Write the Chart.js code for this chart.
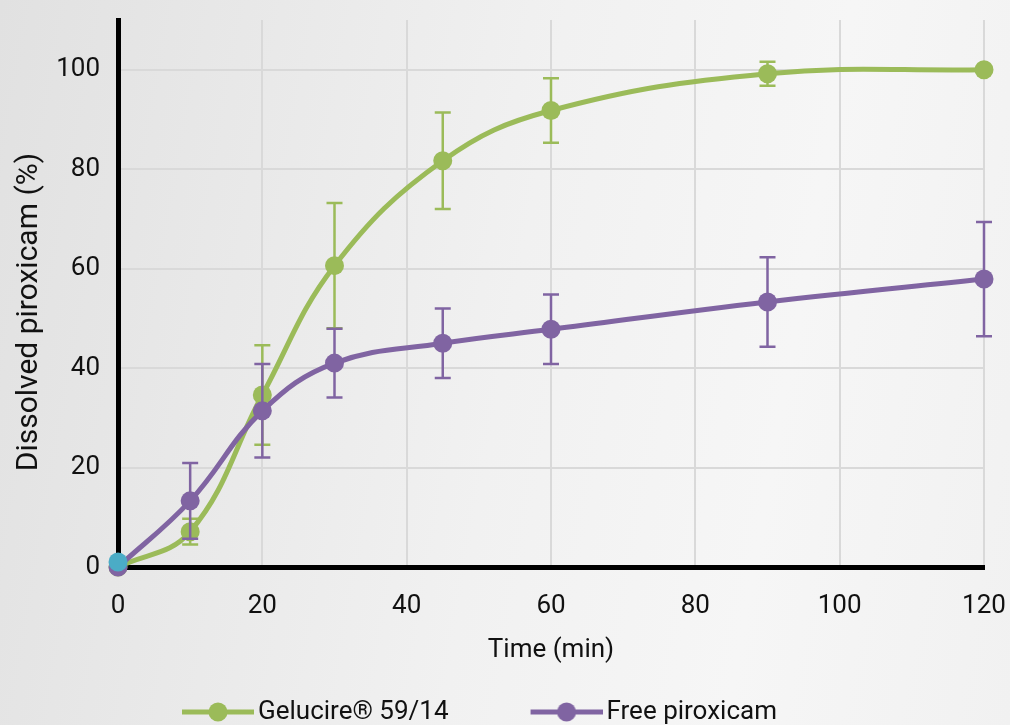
<!DOCTYPE html>
<html>
<head>
<meta charset="utf-8">
<script src="https://cdn.jsdelivr.net/npm/chart.js@4.4.0/dist/chart.umd.min.js"></script>
<style>
  html, body { margin: 0; padding: 0; }
  body {
    width: 1010px; height: 725px; overflow: hidden;
    background: linear-gradient(100deg, #e1e1e1 0%, #e9e9e9 25%, #f1f1f1 50%, #f6f6f6 75%, #f1f1f1 100%);
  }
  #chart { display: block; }
</style>
</head>
<body>
<canvas id="chart" width="1010" height="725"></canvas>
<script>
// --- data ---
const timePoints = [0, 10, 20, 30, 45, 60, 90, 120];
const gelucireValues = [0, 7.1, 34.6, 60.6, 81.7, 91.8, 99.2, 100.0];
const gelucireErrors = [0, 2.6, 10.0, 12.6, 9.7, 6.5, 2.4, 0];
const freeValues = [0, 13.3, 31.4, 41.0, 45.0, 47.8, 53.3, 57.9];
const freeErrors = [0, 7.6, 9.4, 6.9, 7.0, 7.0, 9.0, 11.5];
const originMarker = [{ x: 0, y: 1 }];
const seriesLabels = ['Gelucire\u00AE 59/14', 'Free piroxicam'];

const GREEN = '#9bbb59';
const PURPLE = '#8064a2';
const CYAN = '#4bacc6';
const FONT = 'Roboto, "DejaVu Sans", sans-serif';

const toPoints = (ys) => timePoints.map((t, i) => ({ x: t, y: ys[i] }));

/** legend swatch: line + dot, with blank room on the left for spacing */
function legendIcon(color) {
  const c = document.createElement('canvas');
  c.width = 153; c.height = 22;
  const g = c.getContext('2d');
  g.strokeStyle = color;
  g.lineWidth = 5;
  g.beginPath(); g.moveTo(81, 11); g.lineTo(153, 11); g.stroke();
  g.fillStyle = color;
  g.beginPath(); g.arc(117, 11, 9.5, 0, Math.PI * 2); g.fill();
  return c;
}
const icons = [legendIcon(GREEN), legendIcon(PURPLE)];

/** error bars drawn just before each dataset */
const errorBars = {
  id: 'errorBars',
  beforeDatasetDraw(chart, args) {
    const ds = chart.data.datasets[args.index];
    if (!ds.errors) return;
    const { ctx } = chart;
    const x = chart.scales.x, y = chart.scales.y;
    ctx.save();
    ctx.strokeStyle = ds.borderColor;
    ctx.lineWidth = 2.5;
    ds.data.forEach((p, i) => {
      const e = ds.errors[i];
      if (!e) return;
      const px = x.getPixelForValue(p.x);
      const top = y.getPixelForValue(p.y + e);
      const bot = y.getPixelForValue(p.y - e);
      ctx.beginPath();
      ctx.moveTo(px, top); ctx.lineTo(px, bot);
      ctx.moveTo(px - 8, top); ctx.lineTo(px + 8, top);
      ctx.moveTo(px - 8, bot); ctx.lineTo(px + 8, bot);
      ctx.stroke();
    });
    ctx.restore();
  }
};

/** nudge the legend into place */
const legendShift = {
  id: 'legendShift',
  afterLayout(chart) {
    const lg = chart.legend;
    if (!lg) return;
    lg.left += 100; lg.right += 100;
    lg.top += 10; lg.bottom += 10;
  }
};

const lineSet = (label, ys, errs, color, order) => ({
  label,
  data: toPoints(ys),
  errors: errs,
  borderColor: color,
  backgroundColor: color,
  pointBackgroundColor: color,
  borderWidth: 5,
  pointRadius: 9.5,
  pointBorderWidth: 0,
  tension: 0.4,
  clip: false,
  order
});

new Chart(document.getElementById('chart'), {
  type: 'line',
  data: {
    datasets: [
      lineSet(seriesLabels[0], gelucireValues, gelucireErrors, GREEN, 2),
      lineSet(seriesLabels[1], freeValues, freeErrors, PURPLE, 1),
      {
        label: 'origin',
        data: originMarker,
        showLine: false,
        pointRadius: 9.5,
        pointBorderWidth: 0,
        pointBackgroundColor: CYAN,
        backgroundColor: CYAN,
        borderColor: CYAN,
        clip: false,
        order: 0
      }
    ]
  },
  options: {
    responsive: false,
    devicePixelRatio: 1,
    animation: false,
    events: [],
    layout: { padding: { left: 0, top: 20, right: 26, bottom: 0 } },
    scales: {
      x: {
        type: 'linear',
        min: 0, max: 120,
        ticks: { stepSize: 20, padding: 24, color: '#111', font: { family: FONT, size: 26 } },
        grid: { color: '#d9d9d9', lineWidth: 2, drawTicks: false },
        border: { color: '#000', width: 5 },
        title: {
          display: true, text: 'Time (min)', color: '#111',
          font: { family: FONT, size: 26 }, padding: { top: 0, bottom: 13 }
        },
        afterFit(scale) {
          scale.height = 112;
          scale.paddingLeft = 0;
          scale.paddingRight = 0;
        }
      },
      y: {
        min: 0, max: 110,
        ticks: { stepSize: 20, padding: 18, color: '#111', font: { family: FONT, size: 26 } },
        afterBuildTicks(scale) { scale.ticks = scale.ticks.filter(t => t.value <= 100); },
        grid: { color: '#d9d9d9', lineWidth: 2, drawTicks: false },
        border: { color: '#000', width: 5 },
        title: {
          display: true, text: 'Dissolved piroxicam (%)     ', color: '#111',
          font: { family: FONT, size: 30 }, padding: { top: 11, bottom: 0 }
        },
        afterFit(scale) {
          scale.width = 118;
          scale.paddingTop = 0;
          scale.paddingBottom = 0;
        }
      }
    },
    plugins: {
      tooltip: { enabled: false },
      legend: {
        position: 'bottom',
        align: 'start',
        labels: {
          usePointStyle: true,
          pointStyleWidth: 135,
          padding: 10,
          color: '#111',
          font: { family: FONT, size: 26 },
          filter: item => item.datasetIndex < 2,
          sort: (a, b) => a.datasetIndex - b.datasetIndex,
          generateLabels(chart) {
            const items = Chart.defaults.plugins.legend.labels.generateLabels(chart);
            items.forEach(it => { if (icons[it.datasetIndex]) it.pointStyle = icons[it.datasetIndex]; });
            return items;
          }
        }
      }
    }
  },
  plugins: [errorBars, legendShift]
});
</script>
</body>
</html>
